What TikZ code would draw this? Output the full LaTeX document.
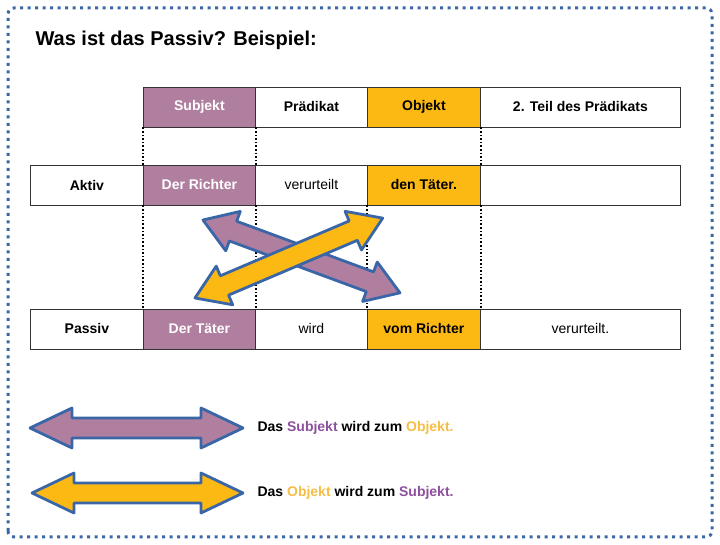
\documentclass[tikz,border=0pt]{standalone}
\usepackage{fontspec}
\setmainfont{Liberation Sans}
\begin{document}
\begin{tikzpicture}[x=1pt,y=1pt,
  cell/.style={draw=black!80,line width=0.8pt,minimum height=40pt,inner sep=0pt,font=\fontsize{14}{16}\selectfont\bfseries,anchor=west},
  pl/.style={cell,font=\fontsize{14}{16}\selectfont},
  pu/.style={cell,fill=subj,text=white},
  ye/.style={cell,fill=obj,text=black},
  dots/.style={line width=1.6pt,dash pattern=on 1.6pt off 2pt},
  arr/.style={draw=abl,line width=2.8pt,line join=round},
  leg/.style={anchor=west,font=\fontsize{14}{16}\selectfont\bfseries}]
\definecolor{subj}{HTML}{B07FA0}
\definecolor{obj}{HTML}{FDB913}
\definecolor{abl}{HTML}{3A66A8}
\definecolor{subjt}{HTML}{8E4F9E}
\definecolor{objt}{HTML}{F5BE45}
\useasboundingbox (0,0) rectangle (720,545);
\draw[abl,line width=3pt,dash pattern=on 3pt off 4.5pt,rounded corners=6pt] (8,8) rectangle (712,537);
\node[anchor=west,font=\fontsize{20}{23}\selectfont\bfseries] (title) at (32,505) {Was ist das Passiv? Beispiel:};
% header
\node[pu,minimum width=112pt] (hs) at (143,438) {Subjekt};
\node[cell,minimum width=112pt] (hp) at (255,438) {Prädikat};
\node[ye,minimum width=113pt] (ho) at (367,438) {Objekt};
\node[cell,minimum width=200pt] (ht) at (480,438) {2. Teil des Prädikats};
% aktiv
\node[cell,minimum width=113pt] (a0) at (30,360) {Aktiv};
\node[pu,minimum width=112pt] (a1) at (143,360) {Der Richter};
\node[pl,minimum width=112pt] (a2) at (255,360) {verurteilt};
\node[ye,minimum width=113pt] (a3) at (367,360) {den Täter.};
\node[cell,minimum width=200pt] (a4) at (480,360) {};
% passiv
\node[cell,minimum width=113pt] (p0) at (30,216) {Passiv};
\node[pu,minimum width=112pt] (p1) at (143,216) {Der Täter};
\node[pl,minimum width=112pt] (p2) at (255,216) {wird};
\node[ye,minimum width=113pt] (p3) at (367,216) {vom Richter};
\node[pl,minimum width=200pt] (p4) at (480,216) {verurteilt.};
% dotted
\draw[dots] (hs.south west) -- (a1.north west);
\draw[dots] (hs.south east) -- (a1.north east);
\draw[dots] (ho.south east) -- (a3.north east);
\draw[dots] (a1.south west) -- (p1.north west);
\draw[dots] (a1.south east) -- (p1.north east);
\draw[dots] (a3.south west) -- (p3.north west);
\draw[dots] (a3.south east) -- (p3.north east);
% cross arrows
\begin{scope}[shift={(203,325)},rotate=-20.3]
 \draw[arr,fill=subj] (0,0) -- (32,-21) -- (32,-10.5) -- (178,-10.5) -- (178,-21) -- (210,0) -- (178,21) -- (178,10.5) -- (32,10.5) -- (32,21) -- cycle;
\end{scope}
\begin{scope}[shift={(195,247)},rotate=23.05]
 \draw[arr,fill=obj] (0,0) -- (32,-21) -- (32,-10.5) -- (172,-10.5) -- (172,-21) -- (204,0) -- (172,21) -- (172,10.5) -- (32,10.5) -- (32,21) -- cycle;
\end{scope}
% legend
\begin{scope}[shift={(30,117)}]
 \draw[arr,fill=subj] (0,0) -- (42,-20) -- (42,-10) -- (171,-10) -- (171,-20) -- (213,0) -- (171,20) -- (171,10) -- (42,10) -- (42,20) -- cycle;
\end{scope}
\begin{scope}[shift={(32,52)}]
 \draw[arr,fill=obj] (0,0) -- (42,-20) -- (42,-10) -- (169,-10) -- (169,-20) -- (211,0) -- (169,20) -- (169,10) -- (42,10) -- (42,20) -- cycle;
\end{scope}
\node[leg] (l1) at (254,117) {Das \textcolor{subjt}{Subjekt} wird zum \textcolor{objt}{Objekt.}};
\node[leg] (l2) at (254,52) {Das \textcolor{objt}{Objekt} wird zum \textcolor{subjt}{Subjekt.}};
\end{tikzpicture}
\end{document}
